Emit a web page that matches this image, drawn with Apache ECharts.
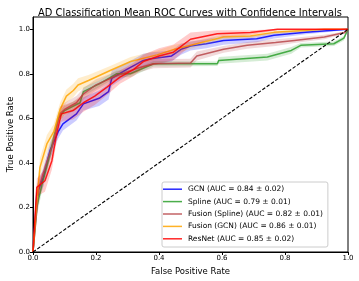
<!DOCTYPE html>
<html><head><meta charset="utf-8">
<script src="https://cdn.jsdelivr.net/npm/echarts@6/dist/echarts.min.js"></script>
<style>html,body{margin:0;padding:0;background:#fff}#c{width:359px;height:281px}</style>
</head><body><div id="c"></div>
<script>
const titleText = 'AD Classification Mean ROC Curves with Confidence Intervals';
const xTicks = [0, 0.2, 0.4, 0.6, 0.8, 1.0];
const yTicks = [0, 0.2, 0.4, 0.6, 0.8, 1.0];
const names = ['GCN (AUC = 0.84 ± 0.02)', 'Spline (AUC = 0.79 ± 0.01)', 'Fusion (Spline) (AUC = 0.82 ± 0.01)', 'Fusion (GCN) (AUC = 0.86 ± 0.01)', 'ResNet (AUC = 0.85 ± 0.02)'];
const colors = ['#0000ff', '#2ca02c', '#b8474a', '#ffa500', '#ff0000'];

const gcnX = [0, .012, .033, .054, .08, .095, .138, .16, .21, .24, .25, .298, .35, .37, .44, .47, .5, .55, .605, .71, .765, .866, .955, 1];
const gcnY = [0, .26, .335, .455, .54, .575, .62, .665, .69, .72, .78, .82, .86, .866, .88, .91, .925, .935, .95, .957, .973, .987, .995, 1];
const gcnCI = [0, .04, .04, .035, .03, .03, .03, .03, .035, .035, .035, .03, .03, .03, .025, .025, .02, .02, .02, .015, .015, .01, .005, 0];

const splineX = [0, .012, .028, .054, .08, .10, .149, .16, .21, .265, .309, .383, .585, .59, .744, .82, .85, .955, .987, 1];
const splineY = [0, .2, .30, .44, .60, .635, .67, .72, .755, .80, .80, .845, .845, .86, .875, .905, .928, .935, .96, 1];
const splineCI = [0, .04, .03, .03, .025, .02, .02, .02, .015, .015, .015, .012, .01, .015, .015, .015, .01, .01, .01, 0];

const fusSplX = [0, .019, .038, .06, .085, .10, .138, .16, .20, .255, .32, .383, .50, .52, .605, .68, .77, .83, .925, .99, 1];
const fusSplY = [0, .29, .38, .47, .62, .64, .67, .71, .75, .785, .82, .845, .848, .88, .91, .928, .94, .95, .965, .985, 1];
const fusSplCI = [0, .03, .03, .03, .03, .03, .03, .025, .025, .02, .02, .02, .02, .02, .015, .015, .015, .012, .01, .005, 0];

const fusGcnX = [0, .01, .022, .044, .066, .086, .106, .128, .143, .176, .245, .31, .394, .45, .52, .605, .69, .765, .925, 1];
const fusGcnY = [0, .2, .38, .485, .54, .64, .70, .725, .75, .77, .815, .855, .885, .91, .935, .965, .97, .986, 1.0, 1];
const fusGcnCI = [0, .03, .04, .04, .035, .03, .03, .03, .03, .025, .02, .02, .02, .02, .015, .01, .01, .008, .005, 0];

const resnetX = [0, .012, .038, .06, .075, .09, .127, .16, .196, .235, .276, .32, .35, .40, .446, .50, .585, .69, .776, 1];
const resnetY = [0, .29, .32, .41, .53, .62, .635, .67, .70, .74, .785, .82, .855, .88, .897, .955, .98, .985, 1.0, 1.0];
const resnetCI = [0, .04, .05, .04, .035, .035, .04, .04, .04, .035, .03, .03, .03, .035, .035, .03, .015, .01, .005, 0];

const diagX = [0, 1];
const diagY = [0, 1];

const curves = [
  [gcnX, gcnY, gcnCI],
  [splineX, splineY, splineCI],
  [fusSplX, fusSplY, fusSplCI],
  [fusGcnX, fusGcnY, fusGcnCI],
  [resnetX, resnetY, resnetCI]
];

const FONT = 'DejaVu Sans';
const series = [];
curves.forEach(function (c, i) {
  const xs = c[0], ys = c[1], ci = c[2];
  const rows = xs.map(function (x, k) {
    return [x, Math.max(0, ys[k] - ci[k]), Math.min(1, ys[k] + ci[k])];
  });
  series.push({ type: 'custom', name: 'band' + i, silent: true, clip: true, z: 1 + i * 2,
    encode: { x: 0, y: [1, 2] },
    data: rows,
    renderItem: function (params, api) {
      if (params.dataIndex !== 0) return null;
      const upper = rows.map(function (r) { return api.coord([r[0], r[2]]); });
      const lower = rows.map(function (r) { return api.coord([r[0], r[1]]); }).reverse();
      return { type: 'polygon', shape: { points: upper.concat(lower) },
        style: { fill: colors[i], opacity: 0.2 } };
    } });
});
curves.forEach(function (c, i) {
  series.push({ type: 'line', name: names[i], data: c[0].map(function (x, k) { return [x, c[1][k]]; }),
    symbol: 'none', itemStyle: { color: colors[i] },
    lineStyle: { color: colors[i], width: 1.5, opacity: 0.85 }, z: 2 + i * 2, animation: false });
});
series.push({ type: 'line', name: 'diag', data: diagX.map(function (x, k) { return [x, diagY[k]]; }), symbol: 'none',
  itemStyle: { color: '#000' }, lineStyle: { color: '#000', width: 1.1, type: [3.5, 1.8] }, z: 20, animation: false });

const chart = echarts.init(document.getElementById('c'), null, { renderer: 'canvas' });
chart.setOption({
  animation: false,
  backgroundColor: '#fff',
  textStyle: { fontFamily: FONT },
  title: { text: titleText, left: 33, top: 3,
    textStyle: { fontFamily: FONT, fontSize: 9.9, fontWeight: 'normal', color: '#000' } },
  grid: { left: 33, right: 11, top: 17, bottom: 29, outerBoundsMode: 'none', containLabel: false,
    show: true, borderColor: '#000', borderWidth: 1, backgroundColor: 'transparent' },
  xAxis: { type: 'value', min: 0, max: 1, interval: 0.2,
    name: 'False Positive Rate', nameLocation: 'middle', nameGap: 15, nameMoveOverlap: false,
    nameTextStyle: { fontFamily: FONT, fontSize: 8.5, color: '#000' },
    axisLine: { lineStyle: { color: '#000', width: 1 } },
    axisTick: { show: true, length: 3, lineStyle: { color: '#000' }, customValues: xTicks },
    axisLabel: { fontFamily: FONT, fontSize: 7, color: '#000', margin: 3, customValues: xTicks,
      formatter: function (v) { return v.toFixed(1); } },
    splitLine: { show: false } },
  yAxis: { type: 'value', min: 0, max: 1.055, interval: 0.2,
    name: 'True Positive Rate', nameLocation: 'middle', nameGap: 18, nameMoveOverlap: false,
    nameTextStyle: { fontFamily: FONT, fontSize: 8.5, color: '#000' },
    axisLine: { show: true, lineStyle: { color: '#000', width: 1 } },
    axisTick: { show: true, length: 3, lineStyle: { color: '#000' }, customValues: yTicks },
    axisLabel: { fontFamily: FONT, fontSize: 7, color: '#000', margin: 3, customValues: yTicks,
      formatter: function (v) { return v.toFixed(1); } },
    splitLine: { show: false } },
  legend: { data: names.map(function (n, i) { return { name: n, icon: 'rect', itemStyle: { color: colors[i], opacity: 0.85 } }; }),
    orient: 'vertical', left: 162, top: 182, selectedMode: false,
    itemWidth: 19, itemHeight: 1.5, itemGap: 0,
    padding: [1, 5, 2, 1], backgroundColor: '#fff', borderColor: '#ccc', borderWidth: 1, borderRadius: 2,
    textStyle: { fontFamily: FONT, fontSize: 7.5, color: '#000', lineHeight: 12.4, padding: [0, 0, 0, 1] } },
  series: series
});
</script></body></html>
